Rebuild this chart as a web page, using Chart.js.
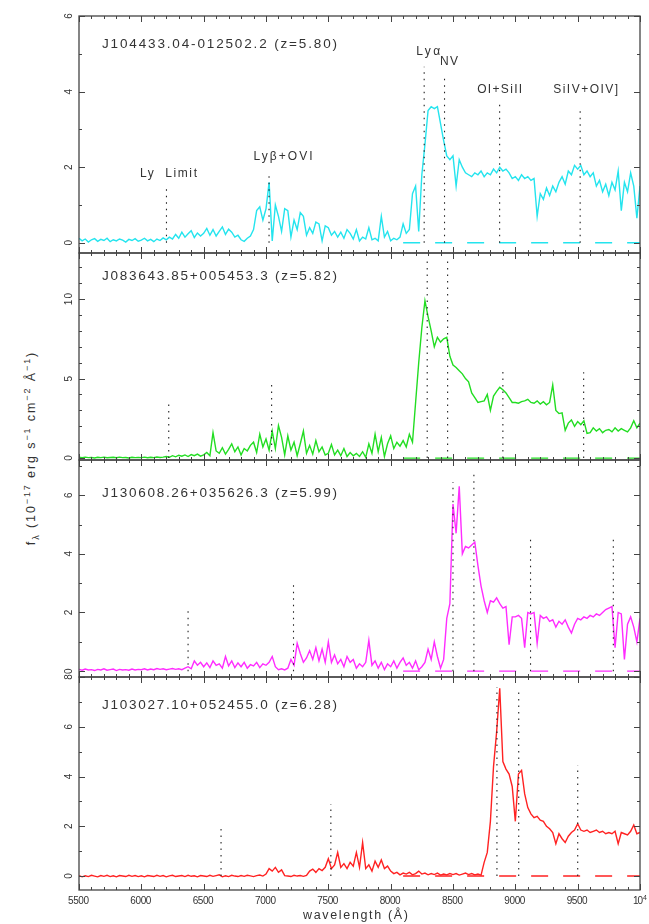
<!DOCTYPE html>
<html>
<head>
<meta charset="utf-8">
<script src="https://cdn.jsdelivr.net/npm/chart.js@4.4.0/dist/chart.umd.min.js"></script>
<style>
  html, body { margin: 0; padding: 0; background: #fff; }
  #page { position: relative; width: 649px; height: 924px; overflow: hidden; background: #fff; }
  #page canvas { position: absolute; left: 0; }
  #ytitle {
    position: absolute; left: 31px; top: 448px;
    transform: translate(-50%, -50%) rotate(-90deg);
    white-space: nowrap; line-height: 1;
    font: 12.5px "Liberation Sans", Arial, sans-serif; color: #333; letter-spacing: 1.9px;
  }
  #ytitle sup, #ytitle sub { font-size: 0.72em; line-height: 0; }
</style>
</head>
<body>
<div id="page">
  <div id="ytitle">f<sub>λ</sub> (10<sup>−17</sup> erg s<sup>−1</sup> cm<sup>−2</sup> Å<sup>−1</sup>)</div>
</div>
<script>
// Sampling grid shared by the four spectra (Angstrom)
const wavelength = [
  5500, 5525, 5550, 5575, 5600, 5625, 5650, 5675, 5700, 5725, 5750, 5775, 5800, 5825, 5850, 5875, 5900, 5925, 5950, 5975,
  6000, 6025, 6050, 6075, 6100, 6125, 6150, 6175, 6200, 6225, 6250, 6275, 6300, 6325, 6350, 6375, 6400, 6425, 6450, 6475,
  6500, 6525, 6550, 6575, 6600, 6625, 6650, 6675, 6700, 6725, 6750, 6775, 6800, 6825, 6850, 6875, 6900, 6925, 6950, 6975,
  7000, 7025, 7050, 7075, 7100, 7125, 7150, 7175, 7200, 7225, 7250, 7275, 7300, 7325, 7350, 7375, 7400, 7425, 7450, 7475,
  7500, 7525, 7550, 7575, 7600, 7625, 7650, 7675, 7700, 7725, 7750, 7775, 7800, 7825, 7850, 7875, 7900, 7925, 7950, 7975,
  8000, 8025, 8050, 8075, 8100, 8125, 8150, 8175, 8200, 8225, 8250, 8275, 8300, 8325, 8350, 8375, 8400, 8425, 8450, 8475,
  8500, 8525, 8550, 8575, 8600, 8625, 8650, 8675, 8700, 8725, 8750, 8775, 8800, 8825, 8850, 8875, 8900, 8925, 8950, 8975,
  9000, 9025, 9050, 9075, 9100, 9125, 9150, 9175, 9200, 9225, 9250, 9275, 9300, 9325, 9350, 9375, 9400, 9425, 9450, 9475,
  9500, 9525, 9550, 9575, 9600, 9625, 9650, 9675, 9700, 9725, 9750, 9775, 9800, 9825, 9850, 9875, 9900, 9925, 9950, 9975,
  10000
];

// f_lambda in 1e-17 erg/s/cm^2/A
const fluxJ1044 = [
  0.12, 0.05, 0.10, 0.02, 0.08, 0.11, 0.04, 0.09, 0.06, 0.12, 0.03, 0.08, 0.05, 0.10, 0.07, 0.02, 0.09, 0.06, 0.11, 0.04,
  0.07, 0.12, 0.05, 0.09, 0.03, 0.10, 0.06, 0.13, 0.08, 0.15, 0.10, 0.22, 0.12, 0.28, 0.15, 0.24, 0.32, 0.14, 0.26, 0.18,
  0.25, 0.38, 0.20, 0.35, 0.18, 0.30, 0.42, 0.22, 0.36, 0.28, 0.15, 0.20, 0.08, 0.04, 0.12, 0.18, 0.35, 0.85, 0.95, 0.60,
  0.90, 1.60, 0.05, 1.00, 0.70, 0.30, 0.90, 0.85, 0.15, 0.60, 0.35, 0.80, 0.70, 0.20, 0.40, 0.25, 0.55, 0.50, 0.05, 0.45,
  0.40, 0.20, 0.30, 0.15, 0.28, 0.12, 0.35, 0.25, 0.10, 0.35, 0.05, 0.15, 0.10, 0.40, 0.08, 0.12, 0.05, 0.70, 0.15, 0.30,
  0.05, 0.12, 0.08, 0.15, 0.50, 0.25, 0.35, 1.30, 1.50, 0.30, 1.80, 2.60, 3.50, 3.60, 3.55, 3.60, 3.15, 2.70, 2.30, 2.20,
  2.30, 1.50, 2.20, 2.00, 1.85, 1.80, 1.75, 1.85, 1.80, 1.90, 1.75, 1.85, 1.80, 1.95, 1.85, 2.00, 1.90, 1.95, 1.85, 1.70,
  1.75, 1.65, 1.80, 1.70, 1.75, 1.65, 1.70, 0.70, 1.30, 1.15, 1.45, 1.25, 1.50, 1.35, 1.60, 1.75, 1.55, 1.90, 1.80, 2.05,
  1.95, 2.05, 1.80, 1.90, 1.75, 1.85, 1.50, 1.65, 1.35, 1.55, 1.25, 1.60, 1.40, 1.90, 0.85, 1.60, 1.35, 1.85, 1.50, 0.65,
  1.50
];
const fluxJ0836 = [
  0.05, 0.02, 0.06, 0.03, 0.04, 0.01, 0.05, 0.03, 0.06, 0.02, 0.04, 0.05, 0.02, 0.06, 0.03, 0.04, 0.01, 0.05, 0.03, 0.04,
  0.03, 0.06, 0.02, 0.05, 0.03, 0.07, 0.04, 0.06, 0.10, 0.05, 0.15, 0.08, 0.18, 0.12, 0.20, 0.10, 0.22, 0.15, 0.25, 0.12,
  0.20, 0.35, 0.15, 1.60, 0.45, 0.30, 0.65, 0.25, 0.55, 0.90, 0.40, 0.70, 0.20, 0.60, 0.45, 0.80, 1.00, 0.35, 1.50, 0.70,
  1.20, 0.50, 1.70, 0.60, 2.05, 1.30, 0.20, 1.40, 0.50, 1.00, 0.15, 0.90, 1.70, 0.30, 0.80, 0.25, 1.10, 0.40, 0.70, 0.20,
  0.30, 0.85, 0.20, 0.50, 0.15, 0.60, 0.10, 0.35, 0.15, 0.30, 0.10, 0.40, 0.05, 0.90, 0.30, 1.50, 0.40, 1.30, 0.10, 0.90,
  1.40, 0.60, 1.00, 0.75, 1.10, 0.70, 1.50, 1.00, 3.50, 6.00, 8.20, 9.90, 8.90, 8.00, 7.00, 7.60, 7.30, 7.50, 7.60, 6.40,
  5.85, 5.70, 5.50, 5.30, 5.00, 4.80, 4.10, 3.80, 3.50, 3.55, 3.60, 4.00, 3.00, 3.90, 4.20, 4.45, 4.30, 4.10, 3.80, 3.50,
  3.50, 3.45, 3.55, 3.60, 3.70, 3.50, 3.45, 3.60, 3.40, 3.55, 3.35, 3.50, 4.60, 3.00, 2.80, 2.85, 1.75, 2.20, 2.40, 2.00,
  2.30, 2.10, 2.35, 1.55, 1.60, 1.90, 1.70, 1.85, 1.60, 1.75, 1.80, 1.65, 1.90, 1.70, 1.85, 1.75, 1.65, 1.90, 2.35, 1.90,
  2.20
];
const fluxJ1306 = [
  0.06, 0.03, 0.07, 0.04, 0.05, 0.02, 0.06, 0.04, 0.08, 0.03, 0.05, 0.07, 0.02, 0.06, 0.04, 0.05, 0.03, 0.07, 0.04, 0.06,
  0.05, 0.08, 0.04, 0.07, 0.05, 0.09, 0.06, 0.08, 0.05, 0.07, 0.09, 0.06, 0.08, 0.05, 0.10, 0.15, 0.08, 0.35, 0.20, 0.30,
  0.15, 0.28, 0.12, 0.35, 0.20, 0.25, 0.10, 0.50, 0.18, 0.35, 0.12, 0.28, 0.15, 0.30, 0.10, 0.22, 0.18, 0.30, 0.12, 0.25,
  0.20, 0.30, 0.50, 0.15, 0.05, 0.08, 0.04, 0.10, 0.40, 0.20, 0.95, 0.60, 0.30, 0.45, 0.70, 0.40, 0.80, 0.35, 0.75, 0.30,
  1.00, 0.30, 0.55, 0.25, 0.40, 0.15, 0.50, 0.30, 0.40, 0.10, 0.25, 0.15, 0.30, 1.05, 0.20, 0.35, 0.10, 0.30, 0.05, 0.25,
  0.15, 0.35, 0.10, 0.30, 0.45, 0.20, 0.30, 0.10, 0.35, 0.05, 0.15, 0.30, 0.75, 0.40, 1.00, 0.50, 0.10, 0.40, 1.80, 2.30,
  5.70, 4.70, 6.30, 4.00, 4.25, 4.20, 4.30, 4.40, 3.60, 2.90, 2.40, 2.00, 2.40, 2.35, 2.50, 2.30, 2.15, 2.20, 0.90, 1.85,
  1.85, 1.90, 1.80, 0.80, 2.00, 1.95, 2.00, 0.95, 1.90, 1.80, 1.85, 1.70, 1.75, 1.50, 1.70, 1.60, 1.75, 1.50, 1.30, 1.60,
  1.80, 1.75, 1.85, 1.80, 1.90, 1.85, 1.95, 1.90, 2.00, 2.10, 2.15, 2.20, 0.80, 2.00, 1.95, 0.40, 1.60, 1.85, 1.50, 1.00,
  1.80
];
const fluxJ1030 = [
  0.02, -0.03, 0.01, -0.02, 0.03, 0.00, -0.03, 0.02, -0.01, 0.03, -0.02, 0.01, -0.03, 0.02, 0.00, -0.02, 0.03, -0.01, 0.02, -0.02,
  0.01, -0.03, 0.02, 0.00, -0.02, 0.03, -0.01, 0.02, -0.03, 0.01, 0.03, -0.02, 0.00, 0.02, -0.02, 0.03, -0.01, 0.01, -0.03, 0.02,
  0.00, -0.02, 0.03, -0.01, 0.02, 0.05, -0.03, 0.01, -0.02, 0.03, 0.00, -0.02, 0.02, -0.01, 0.03, 0.01, -0.02, 0.02, 0.04, 0.00,
  0.08, 0.30, 0.20, 0.35, 0.15, 0.25, 0.02, 0.00, -0.02, 0.03, 0.00, 0.02, -0.01, 0.03, 0.20, 0.28, 0.15, 0.30, 0.22, 0.35,
  0.70, 0.30, 0.45, 0.95, 0.35, 0.50, 0.30, 0.55, 0.40, 0.95, 0.35, 1.35, 0.30, 0.45, 0.20, 0.60, 0.35, 0.65, 0.30, 0.40,
  0.20, 0.10, 0.15, 0.05, 0.12, 0.08, 0.15, 0.05, 0.10, 0.20, 0.08, 0.12, 0.05, 0.10, 0.06, 0.12, 0.04, 0.08, 0.05, 0.10,
  0.06, 0.10, 0.04, 0.08, 0.12, 0.06, 0.10, 0.05, 0.08, 0.04, 0.55, 0.95, 2.20, 4.40, 5.80, 7.55, 4.60, 4.30, 4.10, 3.60,
  2.20, 4.10, 4.25, 3.30, 2.75, 2.50, 2.35, 2.40, 2.25, 2.20, 2.00, 1.90, 1.75, 1.30, 1.70, 1.50, 1.35, 1.60, 1.75, 1.85,
  2.10, 1.85, 1.80, 1.85, 1.75, 1.80, 1.85, 1.75, 1.80, 1.70, 1.75, 1.70, 1.80, 1.30, 1.75, 1.70, 1.65, 1.80, 2.05, 1.70,
  1.75
];

const objectNames = ['J104433.04-012502.2', 'J083643.85+005453.3', 'J130608.26+035626.3', 'J103027.10+052455.0'];
const redshifts = [5.80, 5.82, 5.99, 6.28];
const spectra = [fluxJ1044, fluxJ0836, fluxJ1306, fluxJ1030];

// rest wavelengths of the marked features and their names
const restLines = [912, 1033, 1216, 1240, 1305, 1400];
const lineNames = ['Ly  Limit', 'Lyβ+OVI', 'Lyα', 'NV', 'OI+SiII', 'SiIV+OIV]'];
// how high each dotted marker reaches, per panel (flux units)
const markerTops = [
  [1.50, 1.88, 4.66, 4.45, 3.70, 3.60],
  [3.56, 4.75, 12.6, 12.4, 5.70, 5.40],
  [2.07, 3.05, 6.45, 6.70, 4.55, 4.60],
  [2.00, 2.90, 7.60, 7.40, 4.45, null]
];
// label heights for the top panel (flux units)
const lineLabelY = [1.75, 2.2, 4.97, 4.71, 3.97, 3.97];

const yTickLabels = [[0, 2, 4, 6], [0, 5, 10], [0, 2, 4, 6], [0, 2, 4, 6, 8]];
const xTickValues = [5500, 6000, 6500, 7000, 7500, 8000, 8500, 9000, 9500, 10000];
const xTickLabels = ['5500', '6000', '6500', '7000', '7500', '8000', '8500', '9000', '9500', '10^4'];

// panel boxes on the page and styling
const panels = [
  { top: 16,  bottom: 253, yMin: -0.27, yMax: 6,    major: 2, titleDy: 32, color: '#24e4ee' },
  { top: 253, bottom: 460, yMin: -0.12, yMax: 12.9, major: 5, titleDy: 27, color: '#22dd22' },
  { top: 460, bottom: 677, yMin: -0.2,  yMax: 7.2,  major: 2, titleDy: 37, color: '#ff2cff' },
  { top: 677, bottom: 890, yMin: -0.56, yMax: 8,    major: 2, titleDy: 32, color: '#ff2222' }
];
// label offsets (px) and widths for the feature names in the top panel
const labelStyle = [
  { dx: 2, width: 57 }, { dx: 14, width: 59 }, { dx: 4, width: 24 },
  { dx: 4.5, width: 18 }, { dx: 0, width: 45 }, { dx: 5.5, width: 65 }
];
const PAGE_W = 649, PAGE_H = 924, PLOT_LEFT = 79, PLOT_RIGHT = 640;
const INK = '#333';

function fitText(ctx, text, left, baseline, width) {
  ctx.letterSpacing = '0px';
  const natural = ctx.measureText(text).width;
  const n = Array.from(text).length;
  ctx.letterSpacing = (n > 1 ? (width - natural) / (n - 1) : 0) + 'px';
  ctx.textAlign = 'left';
  ctx.fillText(text, left, baseline);
  ctx.letterSpacing = '0px';
}

// box, inward ticks on all four sides, tick labels and annotations
const frame = {
  id: 'frame',
  afterDraw(chart, args, opts) {
    const i = opts.panel;
    const p = panels[i];
    const { ctx, chartArea: a, scales: { x, y } } = chart;
    ctx.save();
    ctx.strokeStyle = '#444';
    ctx.lineWidth = 1;
    ctx.beginPath();
    for (let w = 5500; w <= 10000; w += 100) {
      const px = Math.round(x.getPixelForValue(w)) + 0.5;
      const len = w % 500 === 0 ? 6 : 3;
      ctx.moveTo(px, a.bottom); ctx.lineTo(px, a.bottom - len);
      ctx.moveTo(px, a.top); ctx.lineTo(px, a.top + len);
    }
    for (let v = Math.ceil(p.yMin); v <= p.yMax; v++) {
      const py = Math.round(y.getPixelForValue(v)) + 0.5;
      const len = v % p.major === 0 ? 6 : 3;
      ctx.moveTo(a.left, py); ctx.lineTo(a.left + len, py);
      ctx.moveTo(a.right, py); ctx.lineTo(a.right - len, py);
    }
    ctx.stroke();
    ctx.lineWidth = 1.3;
    ctx.strokeRect(a.left, a.top, a.right - a.left, a.bottom - a.top);

    ctx.fillStyle = INK;
    // rotated y tick labels
    ctx.font = '10px "Liberation Sans", Arial, sans-serif';
    ctx.letterSpacing = '1px';
    ctx.textAlign = 'center';
    ctx.textBaseline = 'middle';
    yTickLabels[i].forEach(v => {
      ctx.save();
      ctx.translate(69, y.getPixelForValue(v));
      ctx.rotate(-Math.PI / 2);
      ctx.fillText(String(v), 0.5, 0);
      ctx.restore();
    });
    ctx.letterSpacing = '0px';
    ctx.textBaseline = 'alphabetic';

    // object name and redshift
    ctx.font = '13.5px "Liberation Sans", Arial, sans-serif';
    fitText(ctx, objectNames[i] + ' (z=' + redshifts[i].toFixed(2) + ')', 102, a.top + p.titleDy, 235);

    // feature names above the markers (top panel only)
    if (i === 0) {
      ctx.font = '12px "Liberation Sans", Arial, sans-serif';
      lineNames.forEach((name, k) => {
        const cx = x.getPixelForValue(restLines[k] * (1 + redshifts[i])) + labelStyle[k].dx;
        fitText(ctx, name, cx - labelStyle[k].width / 2, y.getPixelForValue(lineLabelY[k]), labelStyle[k].width);
      });
    }

    // wavelength axis labels under the last panel
    if (i === panels.length - 1) {
      ctx.font = '10px "Liberation Sans", Arial, sans-serif';
      xTickValues.forEach((w, k) => {
        const px = x.getPixelForValue(w);
        const label = xTickLabels[k];
        if (label.includes('^')) {
          const [base, exp] = label.split('^');
          fitText(ctx, base, px - 7, a.bottom + 14, 10);
          ctx.font = '7px "Liberation Sans", Arial, sans-serif';
          ctx.fillText(exp, px + 3, a.bottom + 10);
          ctx.font = '10px "Liberation Sans", Arial, sans-serif';
        } else {
          fitText(ctx, label, px - 11, a.bottom + 14, 21);
        }
      });
      ctx.font = '12.5px "Liberation Sans", Arial, sans-serif';
      fitText(ctx, 'wavelength (Å)', 303, a.bottom + 29, 105);
    }
    ctx.restore();
  }
};

const page = document.getElementById('page');

panels.forEach((p, i) => {
  const padTop = 10;
  const padBottom = i === panels.length - 1 ? PAGE_H - p.bottom : 10;
  const canvas = document.createElement('canvas');
  canvas.width = PAGE_W;
  canvas.height = p.bottom - p.top + padTop + padBottom;
  canvas.style.top = (p.top - padTop) + 'px';
  page.appendChild(canvas);

  const z = redshifts[i];
  const markers = restLines
    .map((rest, k) => ({ obs: rest * (1 + z), top: markerTops[i][k] }))
    .filter(m => m.top !== null && m.obs <= 10000)
    .map(m => ({
      data: [{ x: m.obs, y: 0 }, { x: m.obs, y: m.top }],
      borderColor: '#222',
      borderWidth: 1.1,
      borderDash: [1.5, 5]
    }));

  const zeroLine = {
    data: [{ x: 8100, y: 0 }, { x: 10000, y: 0 }],
    borderColor: p.color,
    borderWidth: 1.4,
    borderDash: [17, 15]
  };

  const spectrum = {
    data: wavelength.map((w, k) => ({ x: w, y: spectra[i][k] })),
    borderColor: p.color,
    borderWidth: 1.4
  };

  new Chart(canvas, {
    type: 'line',
    data: { datasets: [...markers, zeroLine, spectrum] },
    options: {
      responsive: false,
      animation: false,
      events: [],
      layout: { padding: { left: PLOT_LEFT, right: PAGE_W - PLOT_RIGHT, top: padTop, bottom: padBottom } },
      elements: { point: { radius: 0 }, line: { tension: 0, fill: false } },
      plugins: {
        legend: { display: false },
        tooltip: { enabled: false },
        frame: { panel: i }
      },
      scales: {
        x: { type: 'linear', min: 5500, max: 10000, display: false },
        y: { type: 'linear', min: p.yMin, max: p.yMax, display: false }
      }
    },
    plugins: [frame]
  });
});
</script>
</body>
</html>
